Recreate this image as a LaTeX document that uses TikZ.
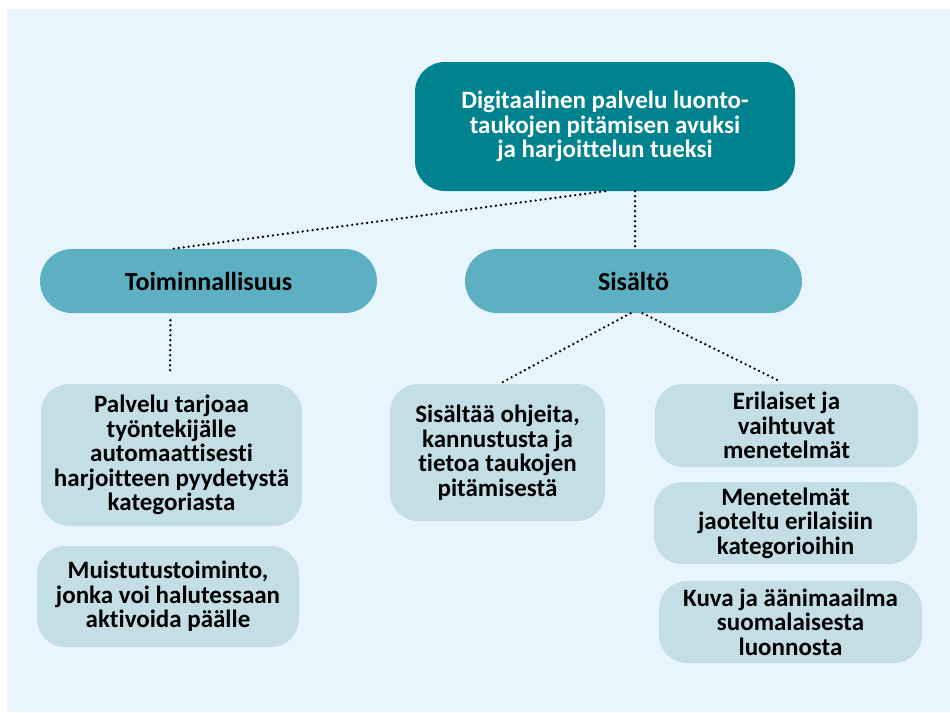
\documentclass[tikz,border=0pt]{standalone}
\usepackage{fontspec}
\setmainfont{Carlito}[Ligatures=NoCommon]
\definecolor{bgblue}{HTML}{E9F5FC}
\definecolor{darkteal}{HTML}{00828F}
\definecolor{midteal}{HTML}{5DAFC2}
\definecolor{paleteal}{HTML}{C3DFE5}
\begin{document}
\begin{tikzpicture}[x=1pt,y=-1pt,
    link/.style={line width=2.6pt,line cap=round,dash pattern=on 0pt off 5pt},
    boxtext/.style={font=\bfseries\fontsize{25}{24.5}\selectfont,align=center,inner sep=0pt}]
        \useasboundingbox (0,0) rectangle (950,712);
        \fill[bgblue] (7,9) rectangle (950,712);
        % main node
        \node (top) at (605,126.5) [boxtext,fill=darkteal,text=white,rounded corners=30pt,
                minimum width=380pt,minimum height=129pt]
                {Digitaalinen palvelu luonto-\\taukojen pitämisen avuksi\\ja harjoittelun tueksi};
        % second level
        \begin{scope}[every node/.style={boxtext,font=\bfseries\fontsize{26}{26}\selectfont,
                        fill=midteal,rounded corners=32pt,
                        minimum width=337pt,minimum height=64pt}]
        \node (toim) at (208.5,281) {Toiminnallisuus};
        \node (sis) at (633.5,281) {Sisältö};
        \end{scope}
        % leaves
        \begin{scope}[every node/.style={boxtext,fill=paleteal,rounded corners=28pt}]
        \node (palv) at (171.5,455) [minimum width=261pt,minimum height=142pt]
                {Palvelu tarjoaa\\työntekijälle\\automaattisesti\\harjoitteen pyydetystä\\kategoriasta};
        \node (muist) at (168,596.5) [minimum width=262pt,minimum height=101pt]
                {Muistutustoiminto,\\jonka voi halutessaan\\aktivoida päälle};
        \node (ohje) at (497.5,452.5) [minimum width=215pt,minimum height=137pt]
                {Sisältää ohjeita,\\kannustusta ja\\tietoa taukojen\\pitämisestä};
        \node (eril) at (786.5,425.5) [minimum width=263pt,minimum height=83pt]
                {Erilaiset ja\\vaihtuvat\\menetelmät};
        \node (kate) at (785.5,523) [minimum width=263pt,minimum height=82pt]
                {Menetelmät\\jaoteltu erilaisiin\\kategorioihin};
        \node (kuva) at (790.5,622) [minimum width=263pt,minimum height=82pt]
                {Kuva ja äänimaailma\\suomalaisesta\\luonnosta};
        \end{scope}
        \draw[link] (top.south) -- ([xshift=-36pt]toim.north);
        \draw[link] ([xshift=30pt]top.south) -- ([xshift=1.5pt]sis.north);
        \draw[link] ([xshift=-38pt,yshift=-7pt]toim.south) -- ([xshift=-1.5pt,yshift=9pt]palv.north);
        \draw[link] ([xshift=-3pt]sis.south) -- ([xshift=2pt]ohje.north);
        \draw[link] ([xshift=9pt]sis.south) -- ([xshift=-9.5pt,yshift=4pt]eril.north);
\end{tikzpicture}
\end{document}
